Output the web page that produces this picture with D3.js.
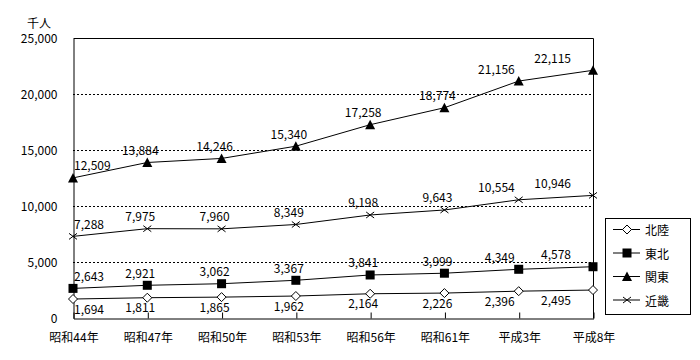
<!DOCTYPE html>
<html><head><meta charset="utf-8">
<script src="https://cdn.jsdelivr.net/npm/d3@7"></script>
<style>
html,body{margin:0;padding:0;background:#fff;}
text{font-family:"Noto Sans CJK JP","DejaVu Sans",sans-serif;font-size:12px;fill:#000;}
</style></head>
<body><svg id="c" width="700" height="360"></svg>
<script>
const categories = ["昭和44年","昭和47年","昭和50年","昭和53年","昭和56年","昭和61年","平成3年","平成8年"];
const hokuriku = [1694,1811,1865,1962,2164,2226,2396,2495];
const tohoku   = [2643,2921,3062,3367,3841,3999,4349,4578];
const kanto    = [12509,13884,14246,15340,17258,18774,21156,22115];
const kinki    = [7288,7975,7960,8349,9198,9643,10554,10946];
const seriesNames = ["北陸","東北","関東","近畿"];
const yTicks = [0,5000,10000,15000,20000,25000];
const unitLabel = "千人";

const series = [
  {name:seriesNames[0], values:hokuriku, marker:"diamond", below:true},
  {name:seriesNames[1], values:tohoku, marker:"square"},
  {name:seriesNames[2], values:kanto, marker:"triangle"},
  {name:seriesNames[3], values:kinki, marker:"cross"}
];

const svg = d3.select("#c");
const L=73, R=593, T=38, B=318;
const x = d3.scalePoint().domain(categories).range([L,R]);
const y = d3.scaleLinear().domain([0,25000]).range([B,T]);
const fmt = d3.format(",");

// gridlines
svg.append("g").selectAll("line").data(yTicks.filter(d=>d>0&&d<25000)).join("line")
  .attr("x1",L).attr("x2",R).attr("y1",d=>Math.round(y(d))+0.5).attr("y2",d=>Math.round(y(d))+0.5)
  .attr("stroke","#000").attr("stroke-width",1).attr("stroke-dasharray","2,2");
// frame top/right
svg.append("path").attr("d",`M${L+0.5},${Math.round(y(25000))+0.5}H${R+0.5}V${B+0.5}`)
  .attr("fill","none").attr("stroke","#000");

// y axis
const yAxis = svg.append("g").attr("transform",`translate(${L+0.5},0.5)`)
  .call(d3.axisLeft(y).tickValues(yTicks).tickFormat(fmt).tickSize(0).tickPadding(16));
yAxis.select(".domain").attr("stroke","#000");
yAxis.selectAll("text").attr("font-size",null).attr("font-family",null);
// x axis
const xAxis = svg.append("g").attr("transform",`translate(0.5,${B+0.5})`)
  .call(d3.axisBottom(x).tickSizeInner(-6).tickSizeOuter(0).tickPadding(15));
xAxis.select(".domain").attr("stroke","#000");
xAxis.selectAll("line").attr("stroke","#000");
xAxis.selectAll("text").attr("font-size",null).attr("font-family",null);
svg.append("text").attr("x",39).attr("y",22).attr("text-anchor","middle").attr("dominant-baseline","central").text(unitLabel);

function drawMarker(g, type, cx, cy){
  if(type==="diamond"){
    g.append("path").attr("d",`M${cx},${cy-4.5}L${cx+4.5},${cy}L${cx},${cy+4.5}L${cx-4.5},${cy}Z`)
      .attr("fill","#fff").attr("stroke","#000");
  } else if(type==="square"){
    g.append("rect").attr("x",cx-4.5).attr("y",cy-4.5).attr("width",9).attr("height",9).attr("fill","#000");
  } else if(type==="triangle"){
    g.append("path").attr("d",`M${cx},${cy-5}L${cx+5},${cy+4.5}L${cx-5},${cy+4.5}Z`).attr("fill","#000");
  } else {
    g.append("path").attr("d",`M${cx-4},${cy-3}L${cx+4},${cy+3}M${cx-4},${cy+3}L${cx+4},${cy-3}`)
      .attr("stroke","#000").attr("fill","none");
  }
}

const line = d3.line().x((d,i)=>x(categories[i])).y(d=>y(d));
const n = categories.length;
series.forEach(s=>{
  const g = svg.append("g");
  g.append("path").attr("d",line(s.values)).attr("fill","none").attr("stroke","#000").attr("stroke-width",1);
  s.values.forEach((v,i)=>{
    const cx = x(categories[i]), cy = y(v);
    drawMarker(g, s.marker, cx, cy);
    let tx = cx-7, anchor = "middle";
    if(i===0){ tx = cx+1; anchor="start"; }
    else if(i===n-2){ tx = cx-4; anchor="end"; }
    else if(i===n-1){ tx = cx-22; anchor="end"; }
    g.append("text").attr("x",tx).attr("y",s.below? cy+9 : cy-13)
      .attr("text-anchor",anchor).attr("dominant-baseline","central").text(fmt(v));
  });
});

// legend
const lg = svg.append("g");
lg.append("rect").attr("x",605.5).attr("y",218.5).attr("width",85).attr("height",96)
  .attr("fill","#fff").attr("stroke","#000");
series.forEach((s,i)=>{
  const ly = 229.5 + i*23.5;
  lg.append("line").attr("x1",613).attr("x2",640).attr("y1",ly).attr("y2",ly).attr("stroke","#000");
  drawMarker(lg, s.marker, 627, ly);
  lg.append("text").attr("x",645).attr("y",ly).attr("dominant-baseline","central").text(s.name);
});
</script></body></html>
